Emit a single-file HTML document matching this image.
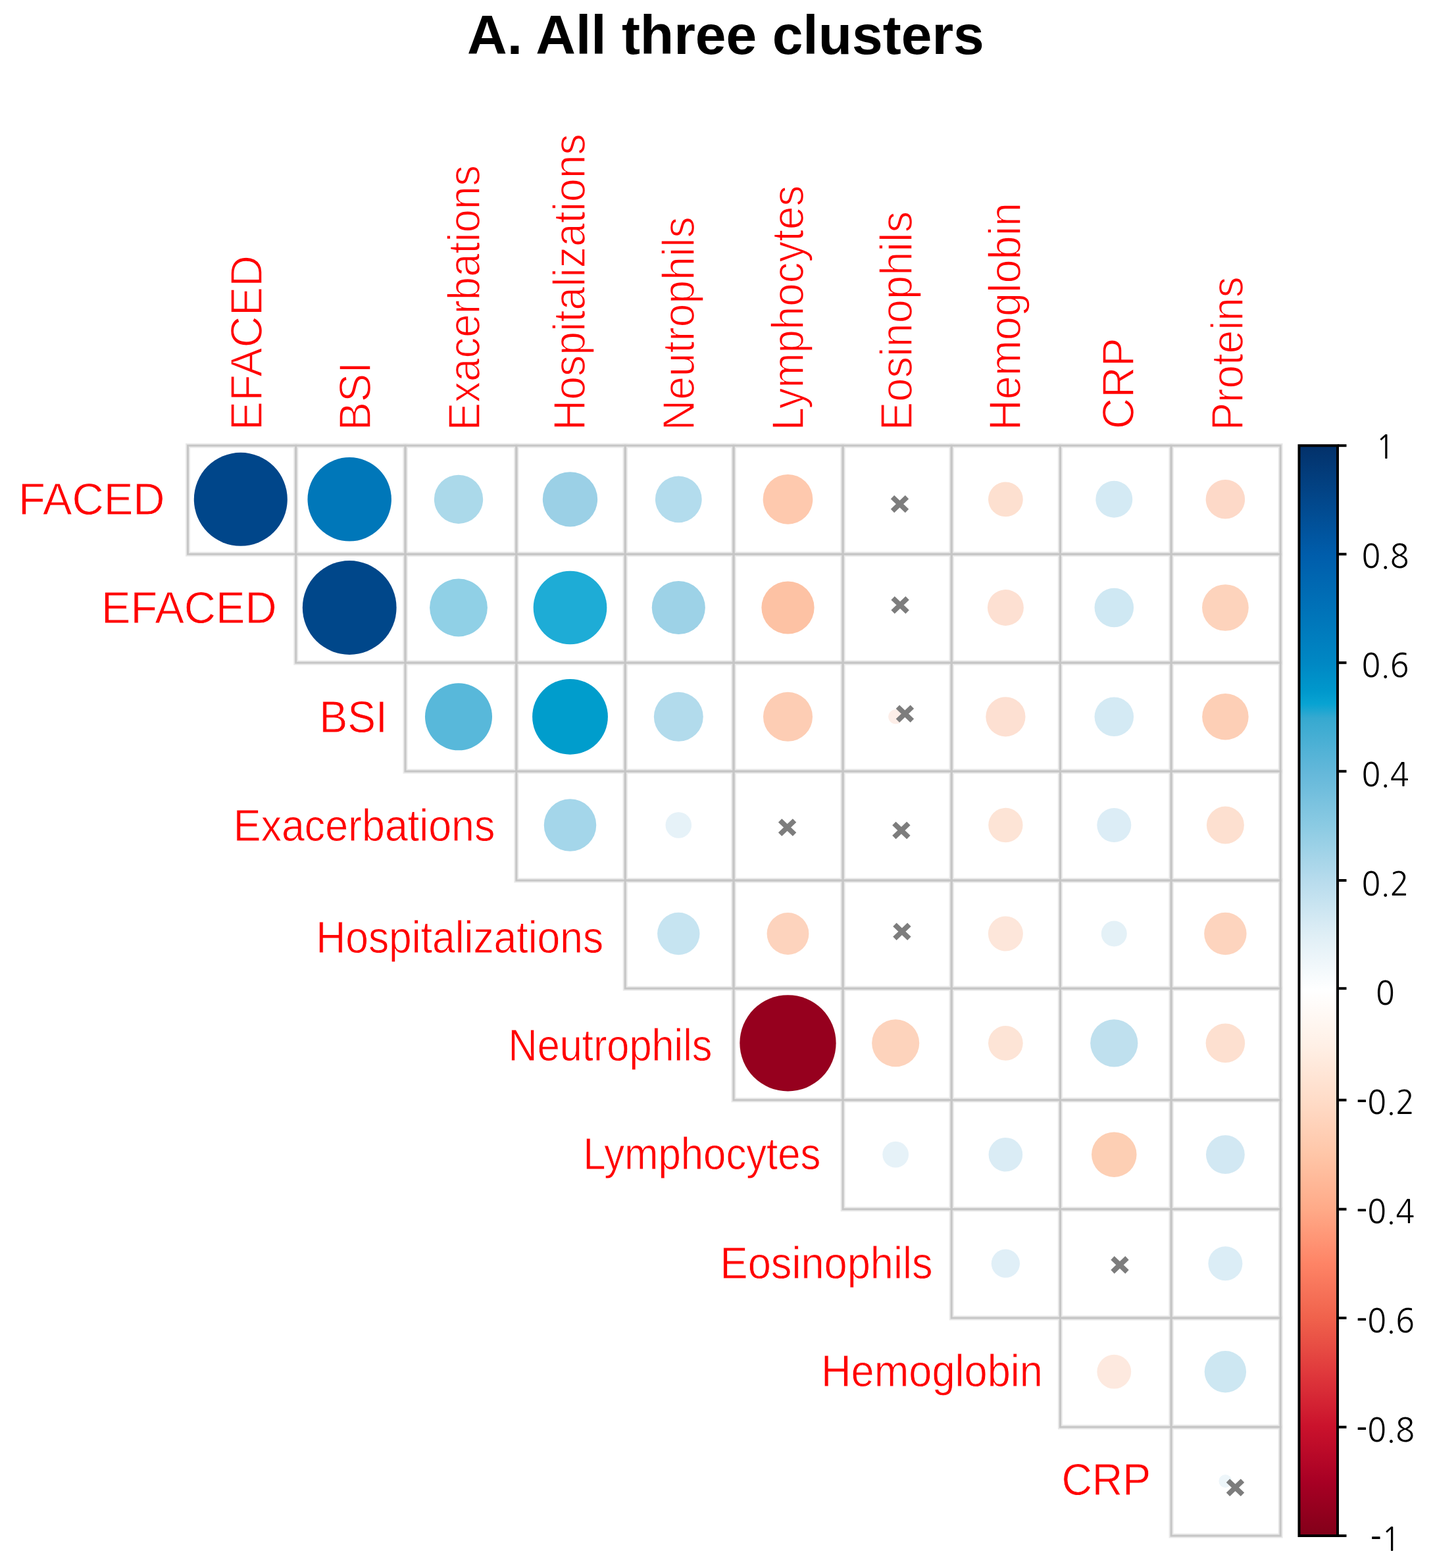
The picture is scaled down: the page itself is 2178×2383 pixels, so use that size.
<!DOCTYPE html>
<html><head><meta charset="utf-8"><title>A. All three clusters</title>
<style>html,body{margin:0;padding:0;background:#fff;}svg{display:block;}</style></head>
<body>
<svg width="2178" height="2383" viewBox="0 0 2178 2383">
<rect width="2178" height="2383" fill="#fff"/>
<defs><linearGradient id="cb" x1="0" y1="0" x2="0" y2="1">
<stop offset="0.000" stop-color="#03316a"/>
<stop offset="0.050" stop-color="#02478b"/>
<stop offset="0.100" stop-color="#005dab"/>
<stop offset="0.150" stop-color="#0072b8"/>
<stop offset="0.200" stop-color="#0088c4"/>
<stop offset="0.225" stop-color="#0098cc"/>
<stop offset="0.237" stop-color="#08a3d2"/>
<stop offset="0.250" stop-color="#36a9d0"/>
<stop offset="0.300" stop-color="#64b8da"/>
<stop offset="0.350" stop-color="#8ccbe3"/>
<stop offset="0.400" stop-color="#b8dced"/>
<stop offset="0.450" stop-color="#e0eff6"/>
<stop offset="0.500" stop-color="#ffffff"/>
<stop offset="0.550" stop-color="#fff0e6"/>
<stop offset="0.600" stop-color="#ffdcc8"/>
<stop offset="0.650" stop-color="#ffc6a8"/>
<stop offset="0.700" stop-color="#ffaa88"/>
<stop offset="0.750" stop-color="#fe8466"/>
<stop offset="0.800" stop-color="#f0624c"/>
<stop offset="0.850" stop-color="#e0393c"/>
<stop offset="0.900" stop-color="#ca122c"/>
<stop offset="0.950" stop-color="#a80024"/>
<stop offset="1.000" stop-color="#820019"/>
</linearGradient></defs>
<text x="710.00" y="82.00" font-family="Liberation Sans, Arial, sans-serif" font-weight="bold" font-size="84" fill="#000">A. All three clusters</text>
<g fill="none" stroke="#e9e9e9" stroke-width="7.0">
<rect x="285.5" y="677.2" width="164.2" height="165.0"/>
<rect x="449.7" y="677.2" width="166.3" height="165.0"/>
<rect x="616.0" y="677.2" width="168.8" height="165.0"/>
<rect x="784.8" y="677.2" width="165.4" height="165.0"/>
<rect x="950.2" y="677.2" width="164.8" height="165.0"/>
<rect x="1115.0" y="677.2" width="166.1" height="165.0"/>
<rect x="1281.1" y="677.2" width="165.1" height="165.0"/>
<rect x="1446.2" y="677.2" width="165.2" height="165.0"/>
<rect x="1611.4" y="677.2" width="168.7" height="165.0"/>
<rect x="1780.1" y="677.2" width="166.1" height="165.0"/>
<rect x="449.7" y="842.2" width="166.3" height="165.0"/>
<rect x="616.0" y="842.2" width="168.8" height="165.0"/>
<rect x="784.8" y="842.2" width="165.4" height="165.0"/>
<rect x="950.2" y="842.2" width="164.8" height="165.0"/>
<rect x="1115.0" y="842.2" width="166.1" height="165.0"/>
<rect x="1281.1" y="842.2" width="165.1" height="165.0"/>
<rect x="1446.2" y="842.2" width="165.2" height="165.0"/>
<rect x="1611.4" y="842.2" width="168.7" height="165.0"/>
<rect x="1780.1" y="842.2" width="166.1" height="165.0"/>
<rect x="616.0" y="1007.2" width="168.8" height="165.0"/>
<rect x="784.8" y="1007.2" width="165.4" height="165.0"/>
<rect x="950.2" y="1007.2" width="164.8" height="165.0"/>
<rect x="1115.0" y="1007.2" width="166.1" height="165.0"/>
<rect x="1281.1" y="1007.2" width="165.1" height="165.0"/>
<rect x="1446.2" y="1007.2" width="165.2" height="165.0"/>
<rect x="1611.4" y="1007.2" width="168.7" height="165.0"/>
<rect x="1780.1" y="1007.2" width="166.1" height="165.0"/>
<rect x="784.8" y="1172.2" width="165.4" height="165.8"/>
<rect x="950.2" y="1172.2" width="164.8" height="165.8"/>
<rect x="1115.0" y="1172.2" width="166.1" height="165.8"/>
<rect x="1281.1" y="1172.2" width="165.1" height="165.8"/>
<rect x="1446.2" y="1172.2" width="165.2" height="165.8"/>
<rect x="1611.4" y="1172.2" width="168.7" height="165.8"/>
<rect x="1780.1" y="1172.2" width="166.1" height="165.8"/>
<rect x="950.2" y="1338.0" width="164.8" height="164.2"/>
<rect x="1115.0" y="1338.0" width="166.1" height="164.2"/>
<rect x="1281.1" y="1338.0" width="165.1" height="164.2"/>
<rect x="1446.2" y="1338.0" width="165.2" height="164.2"/>
<rect x="1611.4" y="1338.0" width="168.7" height="164.2"/>
<rect x="1780.1" y="1338.0" width="166.1" height="164.2"/>
<rect x="1115.0" y="1502.2" width="166.1" height="169.6"/>
<rect x="1281.1" y="1502.2" width="165.1" height="169.6"/>
<rect x="1446.2" y="1502.2" width="165.2" height="169.6"/>
<rect x="1611.4" y="1502.2" width="168.7" height="169.6"/>
<rect x="1780.1" y="1502.2" width="166.1" height="169.6"/>
<rect x="1281.1" y="1671.8" width="165.1" height="165.9"/>
<rect x="1446.2" y="1671.8" width="165.2" height="165.9"/>
<rect x="1611.4" y="1671.8" width="168.7" height="165.9"/>
<rect x="1780.1" y="1671.8" width="166.1" height="165.9"/>
<rect x="1446.2" y="1837.7" width="165.2" height="165.3"/>
<rect x="1611.4" y="1837.7" width="168.7" height="165.3"/>
<rect x="1780.1" y="1837.7" width="166.1" height="165.3"/>
<rect x="1611.4" y="2003.0" width="168.7" height="165.8"/>
<rect x="1780.1" y="2003.0" width="166.1" height="165.8"/>
<rect x="1780.1" y="2168.8" width="166.1" height="165.2"/>
</g>
<g fill="none" stroke="#c6c6c6" stroke-width="3.0">
<rect x="285.5" y="677.2" width="164.2" height="165.0"/>
<rect x="449.7" y="677.2" width="166.3" height="165.0"/>
<rect x="616.0" y="677.2" width="168.8" height="165.0"/>
<rect x="784.8" y="677.2" width="165.4" height="165.0"/>
<rect x="950.2" y="677.2" width="164.8" height="165.0"/>
<rect x="1115.0" y="677.2" width="166.1" height="165.0"/>
<rect x="1281.1" y="677.2" width="165.1" height="165.0"/>
<rect x="1446.2" y="677.2" width="165.2" height="165.0"/>
<rect x="1611.4" y="677.2" width="168.7" height="165.0"/>
<rect x="1780.1" y="677.2" width="166.1" height="165.0"/>
<rect x="449.7" y="842.2" width="166.3" height="165.0"/>
<rect x="616.0" y="842.2" width="168.8" height="165.0"/>
<rect x="784.8" y="842.2" width="165.4" height="165.0"/>
<rect x="950.2" y="842.2" width="164.8" height="165.0"/>
<rect x="1115.0" y="842.2" width="166.1" height="165.0"/>
<rect x="1281.1" y="842.2" width="165.1" height="165.0"/>
<rect x="1446.2" y="842.2" width="165.2" height="165.0"/>
<rect x="1611.4" y="842.2" width="168.7" height="165.0"/>
<rect x="1780.1" y="842.2" width="166.1" height="165.0"/>
<rect x="616.0" y="1007.2" width="168.8" height="165.0"/>
<rect x="784.8" y="1007.2" width="165.4" height="165.0"/>
<rect x="950.2" y="1007.2" width="164.8" height="165.0"/>
<rect x="1115.0" y="1007.2" width="166.1" height="165.0"/>
<rect x="1281.1" y="1007.2" width="165.1" height="165.0"/>
<rect x="1446.2" y="1007.2" width="165.2" height="165.0"/>
<rect x="1611.4" y="1007.2" width="168.7" height="165.0"/>
<rect x="1780.1" y="1007.2" width="166.1" height="165.0"/>
<rect x="784.8" y="1172.2" width="165.4" height="165.8"/>
<rect x="950.2" y="1172.2" width="164.8" height="165.8"/>
<rect x="1115.0" y="1172.2" width="166.1" height="165.8"/>
<rect x="1281.1" y="1172.2" width="165.1" height="165.8"/>
<rect x="1446.2" y="1172.2" width="165.2" height="165.8"/>
<rect x="1611.4" y="1172.2" width="168.7" height="165.8"/>
<rect x="1780.1" y="1172.2" width="166.1" height="165.8"/>
<rect x="950.2" y="1338.0" width="164.8" height="164.2"/>
<rect x="1115.0" y="1338.0" width="166.1" height="164.2"/>
<rect x="1281.1" y="1338.0" width="165.1" height="164.2"/>
<rect x="1446.2" y="1338.0" width="165.2" height="164.2"/>
<rect x="1611.4" y="1338.0" width="168.7" height="164.2"/>
<rect x="1780.1" y="1338.0" width="166.1" height="164.2"/>
<rect x="1115.0" y="1502.2" width="166.1" height="169.6"/>
<rect x="1281.1" y="1502.2" width="165.1" height="169.6"/>
<rect x="1446.2" y="1502.2" width="165.2" height="169.6"/>
<rect x="1611.4" y="1502.2" width="168.7" height="169.6"/>
<rect x="1780.1" y="1502.2" width="166.1" height="169.6"/>
<rect x="1281.1" y="1671.8" width="165.1" height="165.9"/>
<rect x="1446.2" y="1671.8" width="165.2" height="165.9"/>
<rect x="1611.4" y="1671.8" width="168.7" height="165.9"/>
<rect x="1780.1" y="1671.8" width="166.1" height="165.9"/>
<rect x="1446.2" y="1837.7" width="165.2" height="165.3"/>
<rect x="1611.4" y="1837.7" width="168.7" height="165.3"/>
<rect x="1780.1" y="1837.7" width="166.1" height="165.3"/>
<rect x="1611.4" y="2003.0" width="168.7" height="165.8"/>
<rect x="1780.1" y="2003.0" width="166.1" height="165.8"/>
<rect x="1780.1" y="2168.8" width="166.1" height="165.2"/>
</g>
<circle cx="365.80" cy="758.80" r="71.00" fill="#00468a"/>
<circle cx="531.20" cy="758.80" r="63.70" fill="#0077b9"/>
<circle cx="697.00" cy="758.80" r="37.15" fill="#abd9ea"/>
<circle cx="866.50" cy="758.80" r="41.65" fill="#9bd0e6"/>
<circle cx="1031.30" cy="758.80" r="35.35" fill="#b3dced"/>
<circle cx="1197.50" cy="758.80" r="37.85" fill="#fec9ae"/>
<circle cx="1528.40" cy="758.80" r="26.35" fill="#fde0d0"/>
<circle cx="1693.30" cy="758.80" r="27.95" fill="#d4eaf4"/>
<circle cx="1862.40" cy="758.80" r="29.75" fill="#fdd9c8"/>
<circle cx="531.20" cy="923.50" r="71.40" fill="#00478a"/>
<circle cx="697.00" cy="923.50" r="43.90" fill="#90d0e6"/>
<circle cx="866.50" cy="923.50" r="55.85" fill="#1eacd6"/>
<circle cx="1031.30" cy="923.50" r="40.55" fill="#9dd2e7"/>
<circle cx="1197.50" cy="923.50" r="40.10" fill="#fdc2a4"/>
<circle cx="1528.40" cy="923.50" r="27.45" fill="#fde0d2"/>
<circle cx="1693.30" cy="923.50" r="29.75" fill="#cfe8f3"/>
<circle cx="1862.40" cy="923.50" r="35.35" fill="#fdd3bc"/>
<circle cx="697.00" cy="1089.30" r="51.00" fill="#58b8da"/>
<circle cx="866.50" cy="1089.30" r="57.40" fill="#009dcc"/>
<circle cx="1031.30" cy="1089.30" r="37.45" fill="#b2dbec"/>
<circle cx="1197.50" cy="1089.30" r="37.50" fill="#fdcdb4"/>
<circle cx="1361.20" cy="1089.30" r="11.00" fill="#fdeee8"/>
<circle cx="1528.40" cy="1089.30" r="30.10" fill="#fde0d2"/>
<circle cx="1693.30" cy="1089.30" r="29.75" fill="#d4eaf4"/>
<circle cx="1862.40" cy="1089.30" r="35.25" fill="#fdcfb6"/>
<circle cx="866.50" cy="1254.00" r="39.75" fill="#a4d6ea"/>
<circle cx="1031.30" cy="1254.00" r="19.80" fill="#e6f2f8"/>
<circle cx="1528.40" cy="1254.00" r="26.15" fill="#fde4d6"/>
<circle cx="1693.30" cy="1254.00" r="26.00" fill="#dcedf6"/>
<circle cx="1862.40" cy="1254.00" r="28.45" fill="#fde0d0"/>
<circle cx="1031.30" cy="1419.00" r="32.20" fill="#c6e4f1"/>
<circle cx="1197.50" cy="1419.00" r="31.90" fill="#fdd3bd"/>
<circle cx="1528.40" cy="1419.00" r="26.50" fill="#fde6da"/>
<circle cx="1693.30" cy="1419.00" r="19.50" fill="#e4f1f7"/>
<circle cx="1862.40" cy="1419.00" r="32.20" fill="#fdd4be"/>
<circle cx="1197.50" cy="1585.30" r="73.15" fill="#96001e"/>
<circle cx="1361.20" cy="1585.30" r="36.05" fill="#fdd3bc"/>
<circle cx="1528.40" cy="1585.30" r="26.35" fill="#fde4d6"/>
<circle cx="1693.30" cy="1585.30" r="36.10" fill="#bfe0ee"/>
<circle cx="1862.40" cy="1585.30" r="29.75" fill="#fde0d0"/>
<circle cx="1361.20" cy="1754.70" r="19.85" fill="#e6f2f8"/>
<circle cx="1528.40" cy="1754.70" r="25.80" fill="#daecf5"/>
<circle cx="1693.30" cy="1754.70" r="34.25" fill="#fdcfb4"/>
<circle cx="1862.40" cy="1754.70" r="29.40" fill="#d2e8f3"/>
<circle cx="1528.40" cy="1920.20" r="21.65" fill="#e0eff7"/>
<circle cx="1862.40" cy="1920.20" r="26.00" fill="#dbedf6"/>
<circle cx="1693.30" cy="2084.70" r="25.90" fill="#fde9df"/>
<circle cx="1862.40" cy="2084.70" r="31.70" fill="#cde7f2"/>
<circle cx="1862.40" cy="2251.00" r="10.00" fill="#eef6fa"/>
<g stroke="#7d7d7d" stroke-width="7.8" stroke-linecap="butt">
<path d="M1356.5,755.5L1378.5,776.5M1356.5,776.5L1378.5,755.5"/>
<path d="M1357.1,909.0L1379.1,930.0M1357.1,930.0L1379.1,909.0"/>
<path d="M1364.4,1074.3L1386.4,1095.3M1364.4,1095.3L1386.4,1074.3"/>
<path d="M1185.6,1247.0L1207.6,1268.0M1185.6,1268.0L1207.6,1247.0"/>
<path d="M1358.9,1251.5L1380.9,1272.5M1358.9,1272.5L1380.9,1251.5"/>
<path d="M1359.9,1405.2L1381.9,1426.2M1359.9,1426.2L1381.9,1405.2"/>
<path d="M1691.0,1911.9L1713.0,1932.9M1691.0,1932.9L1713.0,1911.9"/>
<path d="M1866.5,2250.2L1888.5,2271.2M1866.5,2271.2L1888.5,2250.2"/>
</g>
<g font-family="Liberation Sans, Arial, sans-serif" fill="#ff0000" stroke="#fff" stroke-width="0.8">
<text x="28.00" y="782.00" font-size="68.0" textLength="222.55" lengthAdjust="spacingAndGlyphs">FACED</text>
<text x="154.00" y="947.40" font-size="68.0" textLength="266.50" lengthAdjust="spacingAndGlyphs">EFACED</text>
<text x="485.60" y="1113.00" font-size="68.0" textLength="103.29" lengthAdjust="spacingAndGlyphs">BSI</text>
<text x="354.80" y="1277.80" font-size="68.0" textLength="397.47" lengthAdjust="spacingAndGlyphs">Exacerbations</text>
<text x="480.20" y="1447.60" font-size="68.0" textLength="436.89" lengthAdjust="spacingAndGlyphs">Hospitalizations</text>
<text x="772.40" y="1612.00" font-size="68.0" textLength="310.10" lengthAdjust="spacingAndGlyphs">Neutrophils</text>
<text x="886.20" y="1777.40" font-size="68.0" textLength="361.24" lengthAdjust="spacingAndGlyphs">Lymphocytes</text>
<text x="1094.60" y="1943.00" font-size="68.0" textLength="322.96" lengthAdjust="spacingAndGlyphs">Eosinophils</text>
<text x="1248.00" y="2107.40" font-size="68.0" textLength="336.88" lengthAdjust="spacingAndGlyphs">Hemoglobin</text>
<text x="1613.40" y="2272.20" font-size="68.0" textLength="135.82" lengthAdjust="spacingAndGlyphs">CRP</text>
</g>
<g font-family="Liberation Sans, Arial, sans-serif" fill="#ff0000" stroke="#fff" stroke-width="1.4">
<text transform="translate(397.80,654.20) rotate(-90)" font-size="68.0" textLength="266.29" lengthAdjust="spacingAndGlyphs">EFACED</text>
<text transform="translate(563.00,654.20) rotate(-90)" font-size="68.0" textLength="104.47" lengthAdjust="spacingAndGlyphs">BSI</text>
<text transform="translate(729.00,654.20) rotate(-90)" font-size="68.0" textLength="403.21" lengthAdjust="spacingAndGlyphs">Exacerbations</text>
<text transform="translate(889.00,654.20) rotate(-90)" font-size="68.0" textLength="451.01" lengthAdjust="spacingAndGlyphs">Hospitalizations</text>
<text transform="translate(1055.00,654.20) rotate(-90)" font-size="68.0" textLength="324.72" lengthAdjust="spacingAndGlyphs">Neutrophils</text>
<text transform="translate(1220.60,654.20) rotate(-90)" font-size="68.0" textLength="372.39" lengthAdjust="spacingAndGlyphs">Lymphocytes</text>
<text transform="translate(1386.20,654.20) rotate(-90)" font-size="68.0" textLength="333.26" lengthAdjust="spacingAndGlyphs">Eosinophils</text>
<text transform="translate(1550.80,654.20) rotate(-90)" font-size="68.0" textLength="346.44" lengthAdjust="spacingAndGlyphs">Hemoglobin</text>
<text transform="translate(1723.40,652.20) rotate(-90)" font-size="68.0" textLength="138.72" lengthAdjust="spacingAndGlyphs">CRP</text>
<text transform="translate(1889.20,654.20) rotate(-90)" font-size="68.0" textLength="233.84" lengthAdjust="spacingAndGlyphs">Proteins</text>
</g>
<rect x="1974.5" y="677.2" width="58.5" height="1656.8" fill="url(#cb)" stroke="#000" stroke-width="4"/>
<g stroke="#000" stroke-width="4">
<line x1="2033.0" y1="677.20" x2="2046.5" y2="677.20"/>
<line x1="2033.0" y1="842.20" x2="2046.5" y2="842.20"/>
<line x1="2033.0" y1="1007.20" x2="2046.5" y2="1007.20"/>
<line x1="2033.0" y1="1172.20" x2="2046.5" y2="1172.20"/>
<line x1="2033.0" y1="1338.00" x2="2046.5" y2="1338.00"/>
<line x1="2033.0" y1="1502.20" x2="2046.5" y2="1502.20"/>
<line x1="2033.0" y1="1671.80" x2="2046.5" y2="1671.80"/>
<line x1="2033.0" y1="1837.70" x2="2046.5" y2="1837.70"/>
<line x1="2033.0" y1="2003.00" x2="2046.5" y2="2003.00"/>
<line x1="2033.0" y1="2168.80" x2="2046.5" y2="2168.80"/>
<line x1="2033.0" y1="2334.00" x2="2046.5" y2="2334.00"/>
</g>
<g font-family="NanumGothic, Liberation Sans, sans-serif" font-size="50" fill="#000" text-anchor="middle">
<text transform="translate(2105.50,696.50) scale(0.95,1)">1</text>
<text transform="translate(2105.50,862.52) scale(0.95,1)">0.8</text>
<text transform="translate(2105.50,1028.54) scale(0.95,1)">0.6</text>
<text transform="translate(2105.50,1194.56) scale(0.95,1)">0.4</text>
<text transform="translate(2105.50,1360.58) scale(0.95,1)">0.2</text>
<text transform="translate(2105.50,1526.60) scale(0.95,1)">0</text>
<text transform="translate(2105.50,1692.62) scale(0.95,1)">-0.2</text>
<text transform="translate(2105.50,1858.64) scale(0.95,1)">-0.4</text>
<text transform="translate(2105.50,2024.66) scale(0.95,1)">-0.6</text>
<text transform="translate(2105.50,2190.68) scale(0.95,1)">-0.8</text>
<text transform="translate(2105.50,2356.70) scale(0.95,1)">-1</text>
</g>
</svg>
</body></html>
